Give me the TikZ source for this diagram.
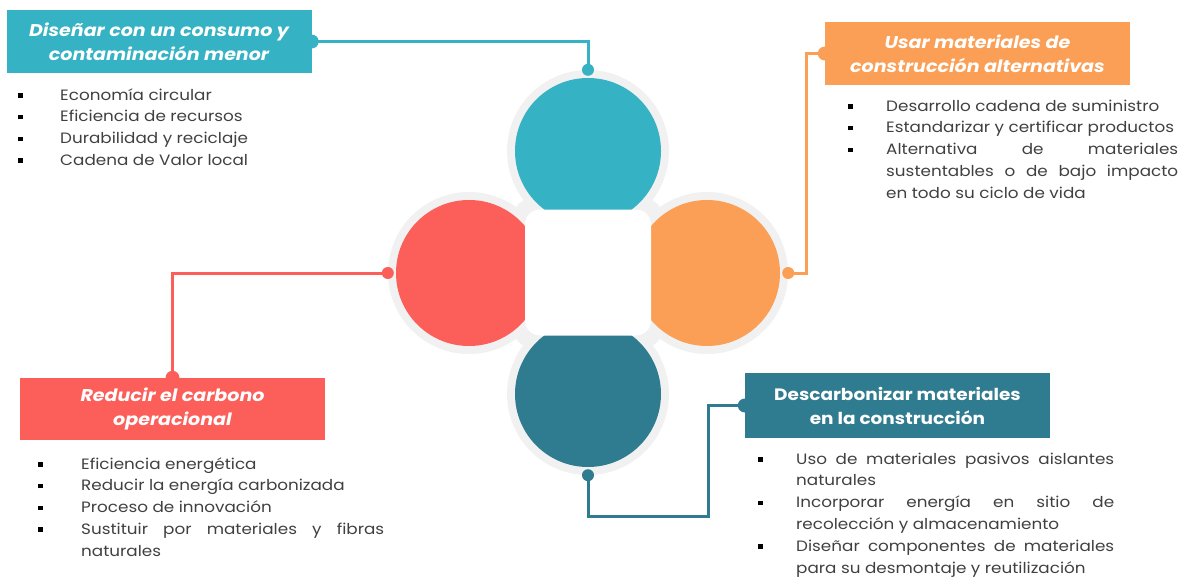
\documentclass[tikz,border=0pt]{standalone}
\usepackage{fontspec}
\setmainfont{Poppins}[FakeStretch=1.12]
\usetikzlibrary{positioning}

\definecolor{cTeal}{HTML}{35B2C3}
\definecolor{cRed}{HTML}{FC5E5A}
\definecolor{cOrange}{HTML}{FA9F55}
\definecolor{cDark}{HTML}{2F7B8F}
\definecolor{ringgray}{HTML}{F1F1F1}
\definecolor{textgray}{HTML}{404040}

\newcommand{\titlefont}{\fontsize{17}{24}\selectfont\bfseries\itshape}
\newcommand{\descfont}{\fontsize{16.5}{24}\selectfont\bfseries}
\newcommand{\listfont}{\fontsize{15}{21.8}\selectfont\hyphenpenalty=10000\exhyphenpenalty=10000\emergencystretch=2em}

\newenvironment{pts}[1]{%
  \begin{list}{\raisebox{0.3ex}{\color{black}\rule{4.5pt}{4.5pt}}}{%
    \setlength{\leftmargin}{#1}\setlength{\labelwidth}{#1}%
    \setlength{\labelsep}{0pt}\setlength{\itemsep}{0pt}%
    \setlength{\parsep}{0pt}\setlength{\topsep}{0pt}%
    \setlength{\partopsep}{0pt}%
    \renewcommand{\makelabel}[1]{##1\hfil}}}%
  {\end{list}}

\tikzset{
  ring/.style={circle, fill=ringgray, minimum size=162pt, inner sep=0},
  petal/.style={circle, fill=#1, minimum size=146pt, inner sep=0},
  dot/.style={circle, fill=#1, minimum size=12pt, inner sep=0},
  bump/.style={circle, fill=#1, minimum size=14pt, inner sep=0},
  title/.style={fill=#1, minimum width=305pt, minimum height=63pt, inner sep=0,
    text=white, align=center, font=\titlefont},
  link/.style={draw=#1, line width=3pt},
  items/.style={anchor=north west, inner sep=0, text=textgray, font=\listfont, align=justify},
}

\begin{document}
\begin{tikzpicture}[x=1pt, y=-1pt]
\useasboundingbox (0,0) rectangle (1189,578);

% flower
\fill [ringgray, rounded corners=20pt] (513,198) rectangle (663,348);
\foreach \n/\x/\y/\c in {Top/588/151/cTeal, Left/469/273/cRed, Right/707/273/cOrange, Bot/588/394/cDark}
{
    \node [ring] (r\n) at (\x,\y) {};
    \node [petal=\c] (p\n) at (\x,\y) {};
}
\node [fill=white, rounded corners=15pt, minimum size=126pt, inner sep=0] (hub) at (588,272.5) {};

% title boxes
\node [title=cTeal] (tTop) at (159,41.5) {Diseñar con un consumo y\\contaminación menor};
\node [title=cOrange] (tRight) at (977.5,53.5) {Usar materiales de\\construcción alternativas};
\node [title=cRed, minimum height=62pt] (tLeft) at (172.5,409) {Reducir el carbono\\operacional};
\node [title=cDark, minimum height=65pt, font=\descfont] (tBot) at (897.5,405.5) {Descarbonizar materiales\\en la construcción};

% connectors
\node [dot=cTeal] (dTop) at (rTop.north) {};
\node [dot=cRed] (dLeft) at (rLeft.west) {};
\node [dot=cOrange] (dRight) at (rRight.east) {};
\node [dot=cDark] (dBot) at (rBot.south) {};
\coordinate (kBot) at (708,516);
\draw [link=cTeal] (dTop) |- (tTop.east);
\draw [link=cOrange] (dRight) -- ++(18,0) |- (tRight.west);
\draw [link=cRed] (dLeft) -| (tLeft.north);
\draw [link=cDark] (dBot) |- (kBot) |- (tBot.west);
\node [bump=cTeal] at (tTop.east) {};
\node [bump=cOrange] at (tRight.west) {};
\node [bump=cRed] at (tLeft.north) {};
\node [bump=cDark] at (tBot.west) {};

% lists
\node [items, text width=330pt] (lTop) at (18,78) {\begin{pts}{42pt}
    \item Economía circular
    \item Eficiencia de recursos
    \item Durabilidad y reciclaje
    \item Cadena de Valor local
\end{pts}};
\node [items, text width=330pt] (lRight) at (848,89) {\begin{pts}{38pt}
    \item Desarrollo cadena de suministro
    \item Estandarizar y certificar productos
    \item Alternativa de materiales sustentables o de bajo impacto en todo su ciclo de vida
\end{pts}};
\node [items, text width=346pt] (lLeft) at (38,447) {\begin{pts}{43pt}
    \item Eficiencia energética
    \item Reducir la energía carbonizada
    \item Proceso de innovación
    \item Sustituir por materiales y fibras naturales
\end{pts}};
\node [items, text width=356pt] (lBot) at (758,442) {\begin{pts}{38pt}
    \item Uso de materiales pasivos aislantes naturales
    \item Incorporar energía en sitio de recolección y almacenamiento
    \item Diseñar componentes de materiales para su desmontaje y reutilización
\end{pts}};
\end{tikzpicture}
\end{document}
